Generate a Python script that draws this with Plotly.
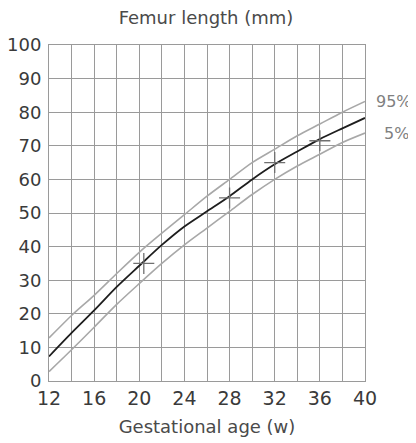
import plotly.graph_objects as go

weeks = [12, 14, 16, 18, 20, 22, 24, 26, 28, 30, 32, 34, 36, 38, 40]
p50 = [7.3, 14.3, 21, 28, 34.3, 40.5, 46, 50.5, 55, 60, 64.5, 68.3, 72, 75.2, 78.3]
p95 = [12.8, 19.5, 25.5, 32, 38.3, 44, 49.5, 55, 60, 65, 69, 73, 76.5, 80, 83.2]
p5 = [2.8, 9.3, 16, 22.8, 29, 35, 40.5, 45.5, 50.5, 55.5, 60, 64, 67.5, 71, 73.8]
mark_x = [20.4, 28, 32, 36]
mark_y = [35, 54.5, 65, 71.5]
x_ticks = [12, 16, 20, 24, 28, 32, 36, 40]
y_ticks = [0, 10, 20, 30, 40, 50, 60, 70, 80, 90, 100]

FONT = "DejaVu Sans"
GRID = "#9a9a9a"
W, H = 408, 435  # page body adds an 8px offset

fig = go.Figure()
fig.add_trace(go.Scatter(x=weeks, y=p95, mode="lines", line=dict(color="#a8a8a8", width=1.6, shape="spline", smoothing=0.8), showlegend=False, hoverinfo="skip"))
fig.add_trace(go.Scatter(x=weeks, y=p5, mode="lines", line=dict(color="#a8a8a8", width=1.6, shape="spline", smoothing=0.8), showlegend=False, hoverinfo="skip"))
fig.add_trace(go.Scatter(x=weeks, y=p50, mode="lines", line=dict(color="#1e1e1e", width=1.8, shape="spline", smoothing=0.8), showlegend=False))
fig.add_trace(go.Scatter(x=mark_x, y=mark_y, mode="markers",
                         marker=dict(symbol="cross-thin", size=15, line=dict(color="#707070", width=1.3)),
                         showlegend=False))

fig.add_annotation(x=weeks[-1], y=p95[-1], text="95%", showarrow=False, xanchor="left", xshift=9,
                   font=dict(family=FONT, size=16, color="#808080"))
fig.add_annotation(x=weeks[-1], y=p5[-1], text="5%", showarrow=False, xanchor="left", xshift=17,
                   font=dict(family=FONT, size=16, color="#808080"))

fig.update_layout(
    width=W, height=H,
    margin=dict(l=41, r=51, t=37, b=62),
    paper_bgcolor="white", plot_bgcolor="white",
    title=dict(text="Femur length (mm)", x=198 / W, xanchor="center", xref="container",
               y=1 - 9.5 / H, yanchor="middle", yref="container",
               font=dict(family=FONT, size=18, color="#4a4a4a")),
    xaxis=dict(range=[12, 40], tickvals=x_ticks, showgrid=True, gridcolor=GRID, gridwidth=1,
               minor=dict(dtick=2, tick0=12, showgrid=True, gridcolor=GRID, gridwidth=1),
               showline=True, linecolor=GRID, linewidth=1, mirror=True, zeroline=False,
               automargin=False,
               tickfont=dict(family=FONT, size=19, color="#3a3a3a"), ticks="", ticklabelstandoff=0,
               title=dict(text="Gestational age (w)", font=dict(family=FONT, size=18, color="#4a4a4a"), standoff=12)),
    yaxis=dict(range=[0, 100], tickvals=y_ticks, showgrid=True, gridcolor=GRID, gridwidth=1,
               showline=True, linecolor=GRID, linewidth=1, mirror=True, zeroline=False,
               automargin=False,
               tickfont=dict(family=FONT, size=18, color="#3a3a3a"), ticks="", ticklabelstandoff=3),
)

fig.write_html("out.html")
